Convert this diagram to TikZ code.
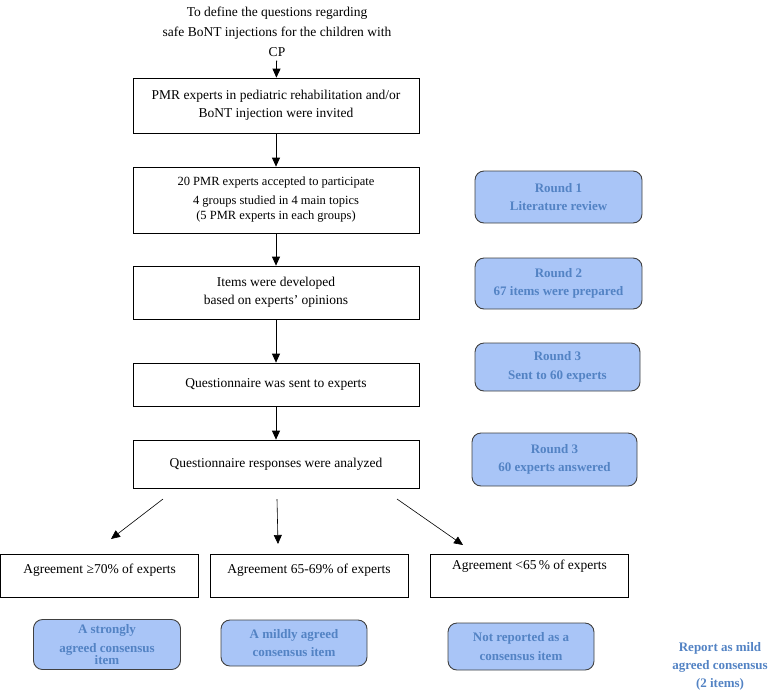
\documentclass[tikz,border=0pt]{standalone}
\usepackage{fontspec}
\setmainfont{Liberation Serif}
\usetikzlibrary{arrows.meta, positioning, calc}
\definecolor{rndfill}{HTML}{A9C5F7}
\definecolor{rndtext}{HTML}{5383C4}

\begin{document}
\begin{tikzpicture}[x=1pt, y=-1pt, >={Triangle[length=9pt, width=8pt]},
          line width=0.8pt, font=\fontsize{13.5}{18}\selectfont,
          stepbox/.style={draw, line width=0.7pt, minimum width=286pt,
            align=center, inner sep=2pt},
          agreebox/.style={draw, line width=0.7pt, minimum width=198pt,
            minimum height=43pt},
          roundbox/.style={draw=black!75, fill=rndfill, line width=0.9pt,
            rounded corners=9pt, text=rndtext, align=center, inner sep=1pt,
            font=\fontsize{13}{18.5}\selectfont\bfseries}]
        \useasboundingbox (0,0) rectangle (770,691);
        % main column
        \node[align=center, font=\fontsize{13.5}{20}\selectfont] (aim)
              at (277,32) {To define the questions regarding\\
              safe BoNT injections for the children with\\ CP};
        \node[stepbox, minimum height=55pt] (invite) at (276,105.5)
              {PMR experts in pediatric rehabilitation and/or\\
               BoNT injection were invited};
        \node[stepbox, minimum height=66pt,
              font=\fontsize{12.5}{17}\selectfont] (accept) at (276,200)
              {20 PMR experts accepted to participate\\[2pt]
               4 groups studied in 4 main topics\\[-2pt]
               (5 PMR experts in each groups)};
        \node[stepbox, minimum height=53pt] (develop) at (276,292.5)
              {Items were developed\\ based on experts' opinions};
        \node[stepbox, minimum height=43pt] (sent) at (276,384.5)
              {Questionnaire was  sent to experts};
        \node[stepbox, minimum height=48pt] (analyse) at (276,464)
              {Questionnaire responses were analyzed};
        \draw[->] (aim) -- (invite);
        \draw[->] (invite) -- (accept);
        \draw[->] (accept) -- (develop);
        \draw[->] (develop) -- (sent);
        \draw[->] (sent) -- (analyse);
        % rounds
        \foreach \n/\x/\y/\w/\h/\t in {r1/558.5/197/167/52/Round 1\\Literature review,
            r2/558.5/283.5/167/51/Round 2\\67 items were prepared,
            r3/557.5/367/165/48/Round 3\\Sent to 60 experts,
            r4/554.5/459.5/165/53/Round 3\\60 experts answered}{
          \node[roundbox, minimum width=\w pt, minimum height=\h pt] (\n)
                at (\x,\y) {\t};
        }
        % outcomes
        \node[agreebox] (high) at (99.5,576) {};
        \node[agreebox] (mid) at (309,576) {};
        \node[agreebox] (low) at (529.5,575.5) {};
        \node (highlab) at (99.5,570) {Agreement ≥70\% of experts};
        \node (midlab) at (309,570) {Agreement 65-69\% of experts};
        \node (lowlab) at (529.5,566) {Agreement <65\,\% of experts};
        \coordinate (s1) at (163,499);
        \coordinate (t1) at (111,539);
        \coordinate (s2) at (277,499);
        \coordinate (t2) at (278,544);
        \coordinate (s3) at (397,499);
        \coordinate (t3) at (463,545);
        \draw[->, line width=0.6pt] (s1) -- (t1);
        \draw[->, line width=0.6pt] (s2) -- (t2);
        \draw[->, line width=0.6pt] (s3) -- (t3);
        \node[roundbox, minimum width=147pt, minimum height=50pt] (strong)
              at (107,644.5) {A strongly\\[1pt] agreed consensus\\[-7pt] item};
        \node[roundbox, minimum width=146pt, minimum height=46pt] (mild)
              at (294,643) {A mildly agreed\\ consensus item};
        \node[roundbox, minimum width=146pt, minimum height=47pt] (none)
              at (521,646.5) {Not reported as a\\ consensus item};
        \node[align=center, text=rndtext,
              font=\fontsize{13}{18}\selectfont\bfseries] (report)
              at (720,666) {Report as mild\\ agreed consensus\\ (2 items)};
      \end{tikzpicture}
\end{document}
